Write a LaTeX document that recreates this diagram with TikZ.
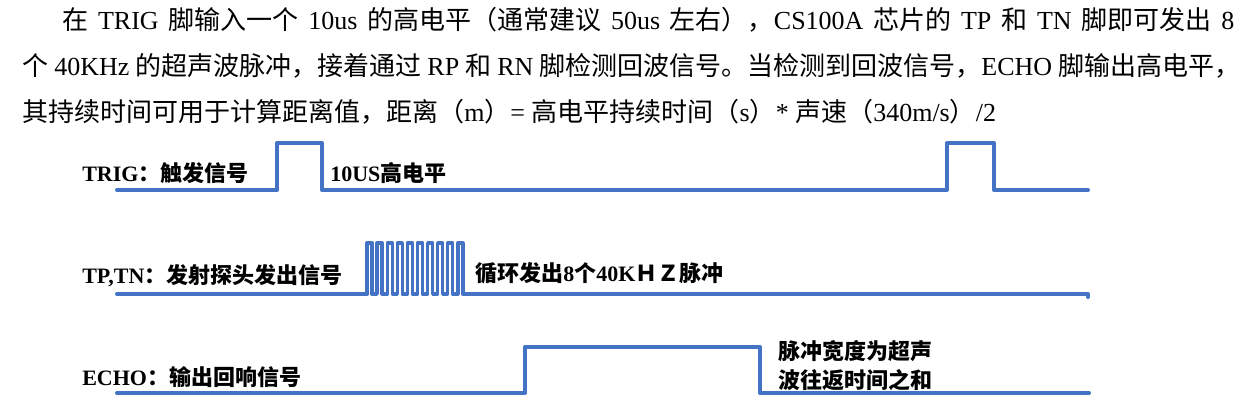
\documentclass[tikz,border=0pt]{standalone}
\usepackage{fontspec}
\usepackage{tikz}
\setmainfont{Liberation Serif}
\newfontfamily\cjk{Noto Sans CJK SC}
\newcommand{\zh}[1]{{\cjk #1}}
\definecolor{wavecol}{RGB}{68,114,196}
\tikzset{
  wave/.style={draw=wavecol, line width=3pt},
  para/.style={anchor=base west, inner sep=0pt, font=\fontsize{19.5pt}{22pt}\selectfont},
  sig/.style={anchor=base west, inner sep=0pt, font=\fontsize{16.5pt}{20pt}\selectfont\bfseries},
}

\begin{document}
\begin{tikzpicture}[x=0.75pt, y=-0.75pt, line join=round, line cap=round]
      \useasboundingbox (0,0) rectangle (1245,415);
      \def\p{10.1}
      \def\w{5}

      % Description text
      \node[para] (L1) at (62,29) {\makebox[879pt][s]{\zh{在} TRIG \zh{脚输入一个} 10us \zh{的高电平（通常建议} 50us \zh{左右），}CS100A \zh{芯片的} TP \zh{和} TN \zh{脚即可发出} 8}};
      \node[para] (L2) at (22,75) {\makebox[913.5pt][s]{\zh{个} 40KHz \zh{的超声波脉冲，接着通过} RP \zh{和} RN \zh{脚检测回波信号。当检测到回波信号，}ECHO \zh{脚输出高电平，}}};
      \node[para] (L3) at (22,121) {\zh{其持续时间可用于计算距离值，距离（}m\zh{）}= \zh{高电平持续时间（}s\zh{）}* \zh{声速（}340m/s\zh{）}/2};

      % TRIG
      \coordinate (T0) at (117,190);
      \coordinate (T1) at (277,190);
      \coordinate (T2) at (277,143);
      \coordinate (T3) at (322,143);
      \coordinate (T4) at (322,190);
      \coordinate (T5) at (947,190);
      \coordinate (T6) at (947,143);
      \coordinate (T7) at (994,143);
      \coordinate (T8) at (994,190);
      \coordinate (T9) at (1088,190);
      \draw[wave] (T0)--(T1)--(T2)--(T3)--(T4)--(T5)--(T6)--(T7)--(T8)--(T9);
      \node[sig] (trig) at (82,181) {TRIG\zh{：触发信号}};
      \node[sig] (trigw) at (330,181) {10US\zh{高电平}};

      % TP, TN
      \coordinate (P0) at (117,294);
      \coordinate (P1) at (367,294);
      \coordinate (P2) at (463,294);
      \coordinate (P3) at (1088,294);
      \coordinate (P4) at (1088,297);
      \draw[wave] (P0) -- (P1);
      \draw[wave, line width=2.5pt] (P1)
        \foreach \i in {0,...,9} { -- ++(0,-51) -- ++(\w,0) -- ++(0,51) -- ++(\p-\w,0) };
      \draw[wave] (P2) -- (P3) -- (P4);
      \node[sig] (tp) at (82,283) {TP,TN\zh{：发射探头发出信号}};
      \node[sig] (tpw) at (475,281) {\zh{循环发出}8\zh{个}40K\zh{ＨＺ脉冲}};

      % ECHO
      \coordinate (E0) at (117,393);
      \coordinate (E1) at (525,393);
      \coordinate (E2) at (525,347);
      \coordinate (E3) at (760,347);
      \coordinate (E4) at (760,393);
      \coordinate (E5) at (1089,393);
      \draw[wave] (E0)--(E1)--(E2)--(E3)--(E4)--(E5);
      \node[sig] (echo) at (82,385) {ECHO\zh{：输出回响信号}};
      \node[sig] (echow1) at (778,359) {\zh{脉冲宽度为超声}};
      \node[sig] (echow2) at (778,388) {\zh{波往返时间之和}};

    \end{tikzpicture}
\end{document}
